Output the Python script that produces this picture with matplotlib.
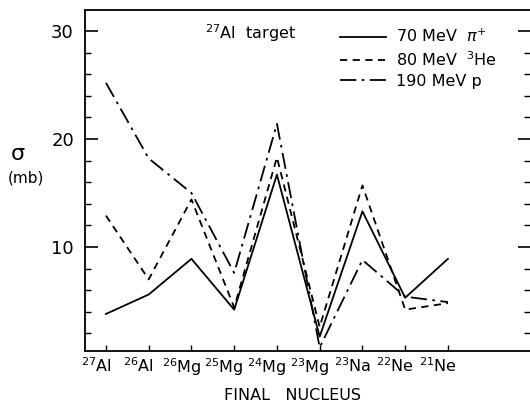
import matplotlib
matplotlib.use("Agg")
import matplotlib.pyplot as plt
from matplotlib.ticker import FixedLocator
from matplotlib.transforms import ScaledTranslation

nuclei = [r"$^{27}$Al", r"$^{26}$Al", r"$^{26}$Mg", r"$^{25}$Mg", r"$^{24}$Mg",
          r"$^{23}$Mg", r"$^{23}$Na", r"$^{22}$Ne", r"$^{21}$Ne"]
pion70 = [3.8, 5.6, 8.9, 4.2, 16.7, 1.7, 13.3, 5.3, 8.9]
he80 = [12.9, 7.0, 14.4, 4.4, 18.3, 2.6, 15.7, 4.2, 4.8]
p190 = [25.2, 18.2, 15.0, 7.6, 21.4, 0.7, 8.8, 5.4, 4.9]
labels = [r"70 MeV  $\pi^{+}$", r"80 MeV  $^{3}$He", "190 MeV p"]

plt.rcParams['font.family'] = ['DejaVu Sans']
plt.rcParams['mathtext.fontset'] = 'dejavusans'

fig = plt.figure(figsize=(5.3, 4.05), dpi=100)
ax = fig.add_axes([85/530, 1-351/405, 1-85/530, (351-10)/405])

x = list(range(len(nuclei)))
lw = 1.3
ax.plot(x, pion70, color='black', lw=lw, ls='-', label=labels[0])
ax.plot(x, he80, color='black', lw=lw, ls=(0, (4, 3)), label=labels[1])
ax.plot(x, p190, color='black', lw=lw, ls=(0, (9, 3, 1.5, 3)), label=labels[2])

ax.set_xlim(-0.49, 9.92)
ax.set_ylim(0.37, 31.94)

ax.spines['right'].set_visible(False)
for s in ['left', 'top', 'bottom']:
    ax.spines[s].set_linewidth(1.3)

ax.yaxis.set_major_locator(FixedLocator([10, 20, 30]))
ax.yaxis.set_minor_locator(FixedLocator([2, 4, 6, 8, 12, 14, 16, 18, 22, 24, 26, 28]))
ax.tick_params(axis='y', which='major', direction='in', length=9, width=1.2,
               labelsize=13, right=True, pad=8)
ax.tick_params(axis='y', which='minor', direction='in', length=4, width=1.0, right=True)

ax.set_xticks(x)
ax.set_xticklabels(nuclei)
ax.tick_params(axis='x', which='major', direction='in', length=4, width=1.0,
               labelsize=11.5, pad=4)
offset = ScaledTranslation(-10/100, 0, fig.dpi_scale_trans)
for lab in ax.get_xticklabels():
    lab.set_transform(lab.get_transform() + offset)

fig.text(292/530, 1-395/405, "FINAL   NUCLEUS", ha='center', va='center', fontsize=11.5)
fig.text(18/530, 1-154/405, "σ", ha='center', va='center', fontsize=16)
fig.text(26/530, 1-178/405, "(mb)", ha='center', va='center', fontsize=11)
fig.text(205/530, 1-33/405, r"$^{27}$Al  target", ha='left', va='center', fontsize=11.5)

leg = ax.legend(loc='upper left', bbox_to_anchor=((340-85)/445, 1-(28-10)/341),
                frameon=False, fontsize=11.5, handlelength=2.9, handletextpad=0.6,
                labelspacing=0.3, borderpad=0, borderaxespad=0)

fig.savefig("out.png", dpi=100)
